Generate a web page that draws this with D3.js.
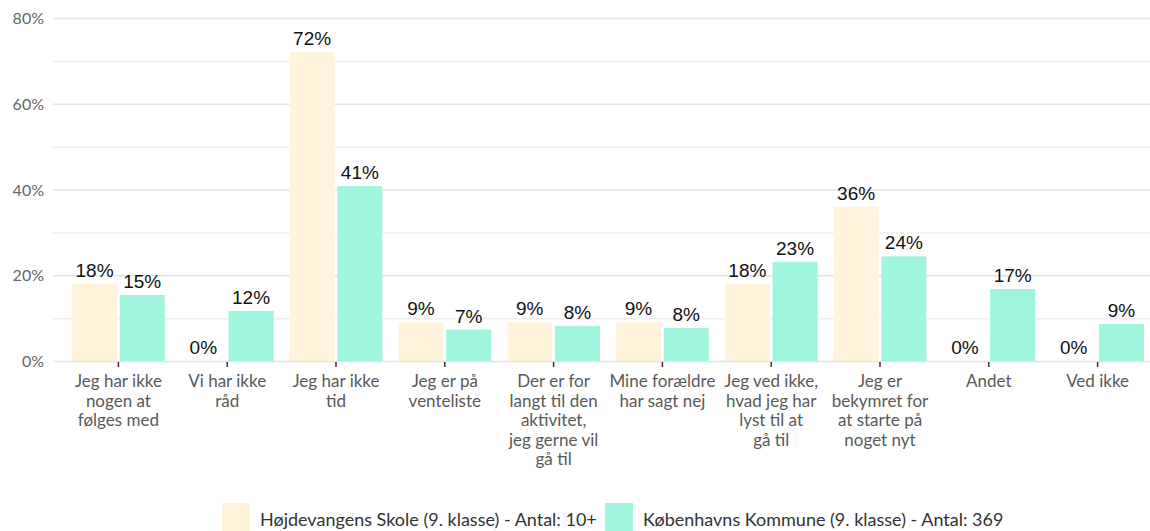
<!DOCTYPE html>
<html>
<head>
<meta charset="utf-8">
<script src="https://cdn.jsdelivr.net/npm/d3@7"></script>
<style>
  body { margin: 0; background: #fff; }
  text { font-family: Lato, "Open Sans", sans-serif; }
</style>
</head>
<body>
<div id="chart"></div>
<script>
// Data
var categories = [
  "Jeg har ikke\nnogen at\nfølges med",
  "Vi har ikke\nråd",
  "Jeg har ikke\ntid",
  "Jeg er på\nventeliste",
  "Der er for\nlangt til den\naktivitet,\njeg gerne vil\ngå til",
  "Mine forældre\nhar sagt nej",
  "Jeg ved ikke,\nhvad jeg har\nlyst til at\ngå til",
  "Jeg er\nbekymret for\nat starte på\nnoget nyt",
  "Andet",
  "Ved ikke"
];
var schoolValues = [18, 0, 72, 9, 9, 9, 18, 36, 0, 0];
var kommuneValues = [15.4, 11.7, 40.8, 7.3, 8.2, 7.7, 23.1, 24.4, 16.8, 8.6];
var seriesNames = ["Højdevangens Skole (9. klasse) - Antal: 10+", "Københavns Kommune (9. klasse) - Antal: 369"];
var colors = ["#FFF4DB", "#A0F5DE"];
var yTicks = [0, 20, 40, 60, 80];

var w = 1150, h = 531;

var svg = d3.select("#chart").append("svg")
  .attr("width", w)
  .attr("height", h);

// Scales
var x = d3.scaleBand().domain(d3.range(categories.length)).range([64, 1152]);
var inner = d3.scaleBand().domain([0, 1]).range([8, x.bandwidth() - 8]).paddingInner(0.055);
var y = d3.scaleLinear().domain([0, 80]).range([361, 18]);

// Gridlines
svg.append("g").selectAll("line")
  .data(d3.range(0, 81, 10))
  .enter().append("line")
  .attr("x1", 53).attr("x2", w)
  .attr("y1", function(d) { return y(d) + 0.5; })
  .attr("y2", function(d) { return y(d) + 0.5; })
  .attr("stroke", function(d) { return d % 20 == 0 ? "#e4e4e4" : "#efefef"; })
  .attr("stroke-width", 1.5);

// Y tick labels
svg.append("g").selectAll("text")
  .data(yTicks)
  .enter().append("text")
  .attr("x", 44)
  .attr("y", function(d) { return y(d) + 6; })
  .attr("text-anchor", "end")
  .attr("fill", "#666")
  .style("font-size", "16px")
  .text(function(d) { return d + "%"; });

// Bars
var rows = categories.map(function(c, i) { return { i: i, vals: [schoolValues[i], kommuneValues[i]] }; });
var groups = svg.append("g").selectAll("g")
  .data(rows)
  .enter().append("g")
  .attr("transform", function(d) { return "translate(" + x(d.i) + ",0)"; });

groups.selectAll("rect")
  .data(function(d) { return d.vals; })
  .enter().append("rect")
  .attr("x", function(d, j) { return inner(j); })
  .attr("y", function(d) { return y(d); })
  .attr("width", inner.bandwidth())
  .attr("height", function(d) { return y(0) - y(d); })
  .attr("fill", function(d, j) { return colors[j]; });

groups.selectAll("text.val")
  .data(function(d) { return d.vals; })
  .enter().append("text")
  .attr("class", "val")
  .attr("x", function(d, j) { return inner(j) + inner.bandwidth() / 2; })
  .attr("y", function(d) { return y(d) - 7; })
  .attr("text-anchor", "middle")
  .attr("fill", "#111")
  .style("font-family", "Liberation Sans, Arial, sans-serif")
  .style("font-size", "19px")
  .text(function(d) { return Math.round(d) + "%"; });

// X axis ticks and labels
var xa = svg.append("g");
xa.selectAll("line")
  .data(d3.range(categories.length))
  .enter().append("line")
  .attr("x1", function(d) { return x(d) + x.bandwidth() / 2; })
  .attr("x2", function(d) { return x(d) + x.bandwidth() / 2; })
  .attr("y1", 362).attr("y2", 367)
  .attr("stroke", "#333").attr("stroke-width", 1.5);

xa.selectAll("text")
  .data(categories)
  .enter().append("text")
  .attr("text-anchor", "middle")
  .attr("fill", "#595959")
  .style("font-size", "17px")
  .each(function(d, i) {
    var t = d3.select(this);
    d.split("\n").forEach(function(line, k) {
      t.append("tspan")
        .attr("x", x(i) + x.bandwidth() / 2)
        .attr("y", 387 + k * 19.5)
        .text(line);
    });
  });

// Legend
var legendX = [222, 605];
var legend = svg.append("g").selectAll("g")
  .data(seriesNames)
  .enter().append("g")
  .attr("transform", function(d, i) { return "translate(" + legendX[i] + ",503)"; });
legend.append("rect")
  .attr("width", 28).attr("height", 28)
  .attr("fill", function(d, i) { return colors[i]; });
legend.append("text")
  .attr("x", 38).attr("y", 23)
  .attr("fill", "#333")
  .style("font-size", "18px")
  .text(function(d) { return d; });
</script>
</body>
</html>
